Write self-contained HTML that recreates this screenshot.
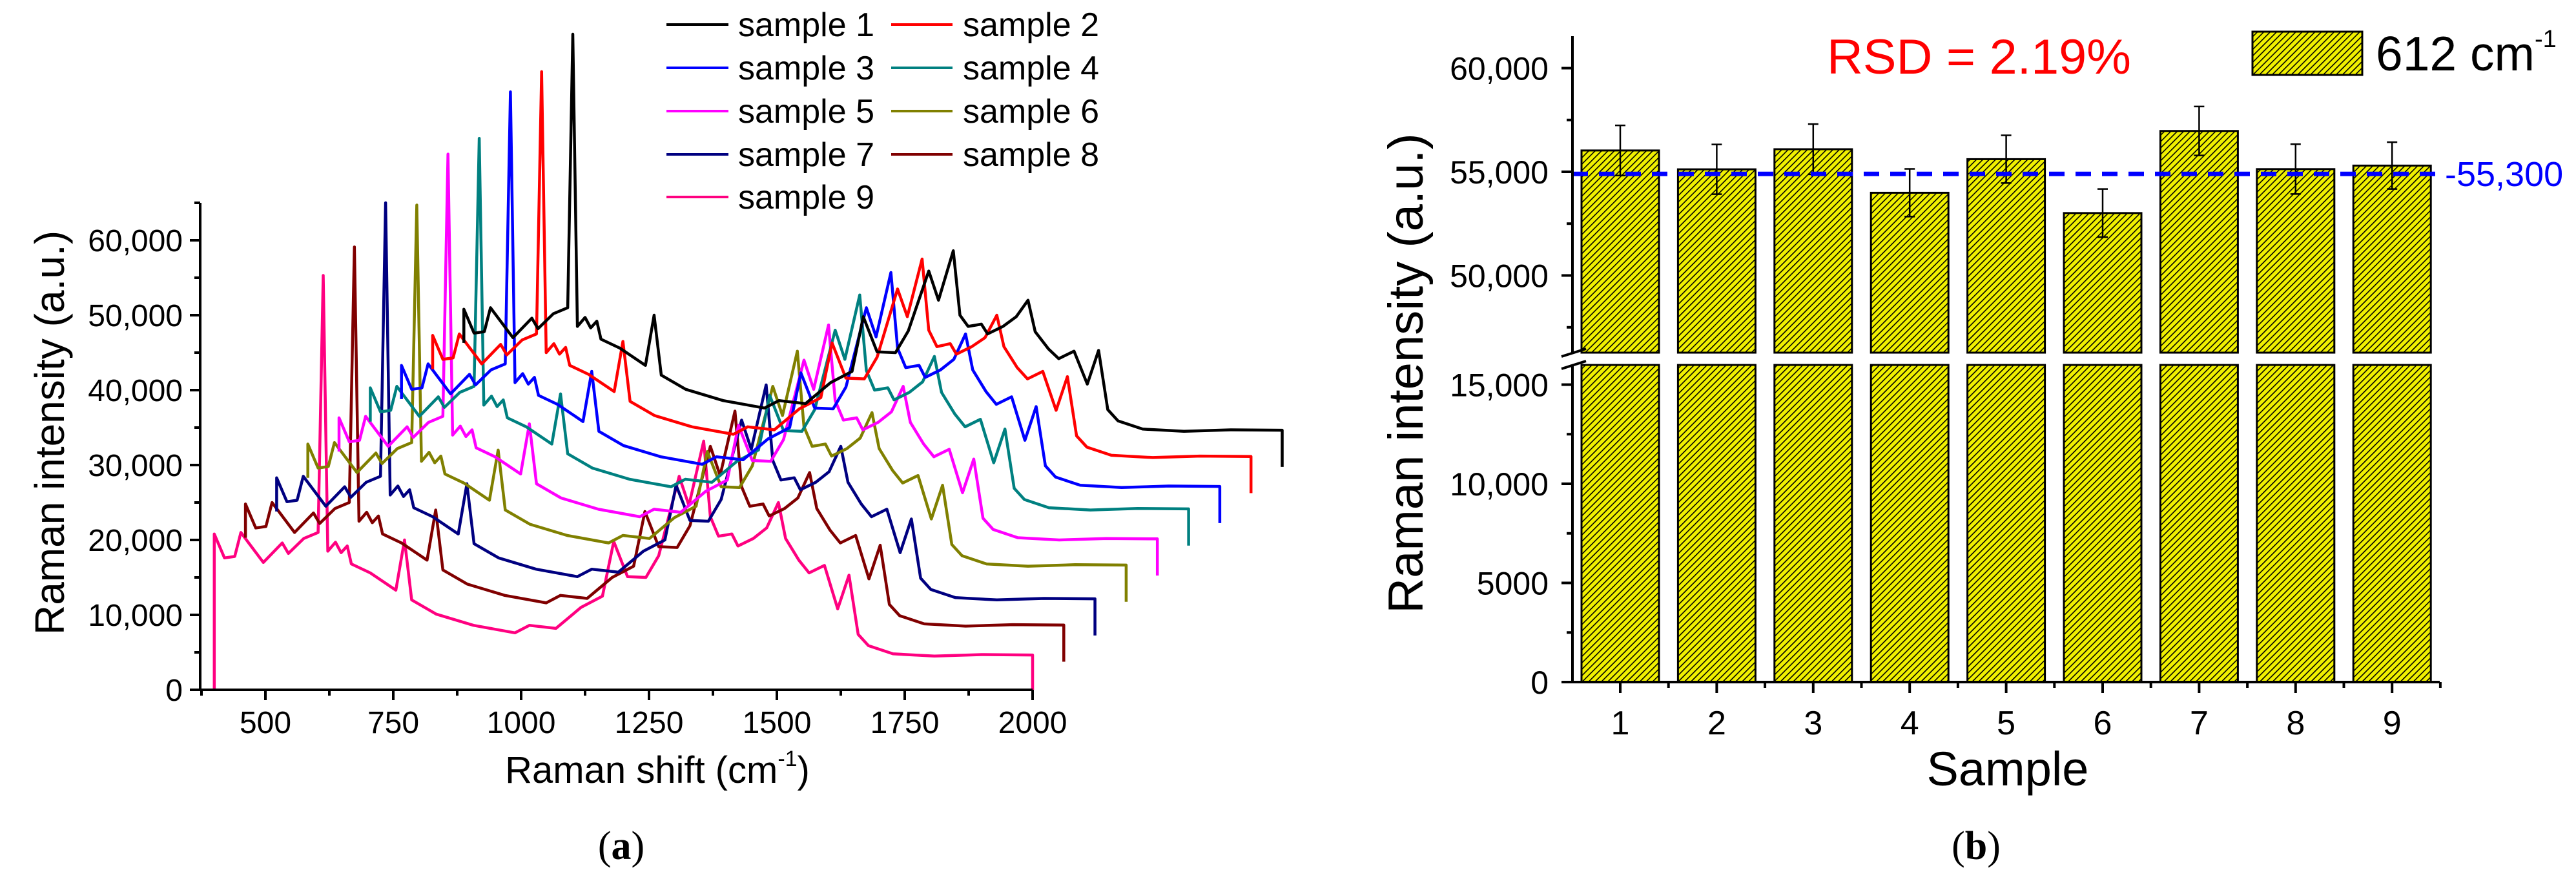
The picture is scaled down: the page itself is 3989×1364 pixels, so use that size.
<!DOCTYPE html>
<html>
<head>
<meta charset="utf-8">
<style>
  html,body{margin:0;padding:0;background:#fff;}
  svg{display:block;font-family:"Liberation Sans",Arial,sans-serif;}
</style>
</head>
<body>
<svg id="fig" xmlns="http://www.w3.org/2000/svg" width="3989" height="1364" viewBox="0 0 3989 1364">
  <defs>
    <pattern id="hatch" patternUnits="userSpaceOnUse" width="7" height="7" patternTransform="rotate(45)">
      <rect width="7" height="7" fill="#f0f000"/>
      <line x1="0" y1="0" x2="0" y2="7" stroke="#000" stroke-width="3.2"/>
    </pattern>
  </defs>
  <rect width="3989" height="1364" fill="#fff"/>

  <g id="left-chart"></g>
  <g id="right-chart"></g>

  <!-- left legend -->
  <g font-size="52">
    <g><line x1="1032" y1="38" x2="1128" y2="38" stroke="#000" stroke-width="4"/><text x="1143" y="56">sample 1</text></g>
    <g><line x1="1380" y1="38" x2="1475" y2="38" stroke="#ff0000" stroke-width="4"/><text x="1491" y="56">sample 2</text></g>
    <g><line x1="1032" y1="105" x2="1128" y2="105" stroke="#0000ff" stroke-width="4"/><text x="1143" y="123">sample 3</text></g>
    <g><line x1="1380" y1="105" x2="1475" y2="105" stroke="#008080" stroke-width="4"/><text x="1491" y="123">sample 4</text></g>
    <g><line x1="1032" y1="172" x2="1128" y2="172" stroke="#ff00ff" stroke-width="4"/><text x="1143" y="190">sample 5</text></g>
    <g><line x1="1380" y1="172" x2="1475" y2="172" stroke="#808000" stroke-width="4"/><text x="1491" y="190">sample 6</text></g>
    <g><line x1="1032" y1="239" x2="1128" y2="239" stroke="#000080" stroke-width="4"/><text x="1143" y="257">sample 7</text></g>
    <g><line x1="1380" y1="239" x2="1475" y2="239" stroke="#800000" stroke-width="4"/><text x="1491" y="257">sample 8</text></g>
    <g><line x1="1032" y1="305" x2="1128" y2="305" stroke="#ff0080" stroke-width="4"/><text x="1143" y="323">sample 9</text></g>
  </g>

  <!-- titles -->
  <text font-size="64" text-anchor="middle" transform="translate(99,670) rotate(-90)">Raman intensity (a.u.)</text>
  <text font-size="58" text-anchor="middle" x="1018" y="1212">Raman shift (cm<tspan font-size="34" dy="-26">-1</tspan><tspan dy="26">)</tspan></text>
  <text font-family="Liberation Serif, serif" font-size="62" text-anchor="middle" x="962" y="1330">(<tspan font-weight="bold">a</tspan>)</text>

  <text font-size="76" text-anchor="middle" transform="translate(2203,578) rotate(-90)">Raman intensity (a.u.)</text>
  <text font-size="74" text-anchor="middle" x="3109" y="1216">Sample</text>
  <text font-family="Liberation Serif, serif" font-size="62" text-anchor="middle" x="3060" y="1330">(<tspan font-weight="bold">b</tspan>)</text>

  <text font-size="76" fill="#ff0000" x="2829" y="114" textLength="471" lengthAdjust="spacingAndGlyphs">RSD = 2.19%</text>

  <g>
    <rect x="3488" y="49" width="170" height="67" fill="url(#hatch)" stroke="#000" stroke-width="3"/>
    <text font-size="75" x="3679" y="109">612 cm<tspan font-size="38" dy="-36">-1</tspan></text>
  </g>
</svg>

<script>
// ---------- Panel (a) data ----------
const shiftBase = [400,400,420,440,452,496,533,545,575,603,613,622,637,648,660,668,705,755,772,786,834,907,988,1016,1068,1117,1159,1181,1208,1244,1269,1309,1328,1357,1370,1386,1412,1424,1454,1480,1503,1517,1543,1563,1593,1619,1641,1659,1679,1727,1808,1900,2000,2000];
const seriesShift = [488,427,366,305,244,183,122,61,0];
const sample1 = [46300,50800,47600,47800,51000,47000,49600,48200,50200,51000,87500,48500,49700,48300,49200,46800,45600,43300,50000,42000,40100,38600,37600,38600,38200,41000,42500,49800,45100,45000,47900,55900,52000,58600,50000,48500,48800,47500,48500,49800,52000,47800,45500,44200,45200,40800,45300,37400,35900,34800,34500,34700,34650,29750];
const sample2 = [42800,47300,44100,44300,47500,43500,46100,44700,46700,47500,82500,45000,46200,44800,45700,43300,42100,39800,46500,38500,36600,35100,34100,35100,34700,37500,39000,46300,41600,41500,44400,53500,49800,57500,48000,45800,46200,44800,45800,47000,50000,45800,43000,41500,42500,37300,41800,33900,32400,31300,31000,31200,31150,26250];
const sample3 = [38800,43300,40100,40300,43500,39500,42100,40700,42700,43500,79800,41000,42200,40800,41700,39300,38100,35800,42500,34500,32600,31100,30100,31100,30700,33500,35000,42300,37600,37500,40400,51000,47100,55700,45600,43000,43300,41700,42700,44100,47500,42700,39800,38100,39100,33300,37800,29900,28400,27300,27000,27200,27150,22250];
const sample4 = [35800,40300,37100,37300,40500,36500,39100,37700,39700,40500,73600,38000,39200,37800,38700,36300,35100,32800,39500,31500,29600,28100,27100,28100,27700,30500,32000,39300,34600,34500,37400,48000,44100,52700,42600,40000,40300,38700,39700,41100,44500,39700,36800,35100,36100,30300,34800,26900,25400,24300,24000,24200,24150,19250];
const sample5 = [31800,36300,33100,33300,36500,32500,35100,33700,35700,36500,71500,34000,35200,33800,34700,32300,31100,28800,35500,27500,25600,24100,23100,24100,23700,26500,28000,35300,30600,30500,33400,44000,40100,48700,38600,36000,36300,34700,35700,37100,40500,35700,32800,31100,32100,26300,30800,22900,21400,20300,20000,20200,20150,15250];
const sample6 = [28300,32800,29600,29800,33000,29000,31600,30200,32200,33000,64700,30500,31700,30300,31200,28800,27600,25300,32000,24000,22100,20600,19600,20600,20200,23000,24500,31800,27100,27000,29900,40500,36600,45200,35100,32500,32800,31200,32200,33600,37000,32200,29300,27600,28600,22800,27300,19400,17900,16800,16500,16700,16650,11750];
const sample7 = [23800,28300,25100,25300,28500,24500,27100,25700,27700,28500,65000,26000,27200,25800,26700,24300,23100,20800,27500,19500,17600,16100,15100,16100,15700,18500,20000,27300,22600,22500,25400,36000,32100,40700,30600,28000,28300,26700,27700,29100,32500,27700,24800,23100,24100,18300,22800,14900,13400,12300,12000,12200,12150,7250];
const sample8 = [20300,24800,21600,21800,25000,21000,23600,22200,24200,25000,59100,22500,23700,22300,23200,20800,19600,17300,24000,16000,14100,12600,11600,12600,12200,15000,16500,23800,19100,19000,21900,32500,28600,37200,27100,24500,24800,23200,24200,25600,29000,24200,21300,19600,20600,14800,19300,11400,9900,8800,8500,8700,8650,3750];
const sample9 = [0,20800,17600,17800,21000,17000,19600,18200,20200,21000,55300,18500,19700,18300,19200,16800,15600,13300,20000,12000,10100,8600,7600,8600,8200,11000,12500,19800,15100,15000,17900,28500,24600,33200,23100,20500,20800,19200,20200,21600,25000,20200,17300,15600,16600,10800,15300,7400,5900,4800,4500,4700,4650,0];
const seriesList = [sample1,sample2,sample3,sample4,sample5,sample6,sample7,sample8,sample9];
const xTicksA = [500,750,1000,1250,1500,1750,2000];
const xMinorA = [375,625,875,1125,1375,1625,1875];
const yTicksA = [0,10000,20000,30000,40000,50000,60000];
const yTickLabelsA = ['0','10,000','20,000','30,000','40,000','50,000','60,000'];
const yMinorA = [5000,15000,25000,35000,45000,55000,65000];

// ---------- Panel (b) data ----------
const barCategories = ['1','2','3','4','5','6','7','8','9'];
const barValues = [56030,55120,56090,53990,55610,53010,56970,55130,55300];
const barErrors = [1210,1200,1210,1150,1150,1160,1180,1200,1130];
const meanLineValue = 54900;
const meanLabel = '-55,300';
const yTicksUpper = [50000,55000,60000];
const yTickLabelsUpper = ['50,000','55,000','60,000'];
const yMinorUpper = [47500,52500,57500];
const yTicksLower = [0,5000,10000,15000];
const yTickLabelsLower = ['0','5000','10,000','15,000'];
const yMinorLower = [2500,7500,12500];

const NS = 'http://www.w3.org/2000/svg';
function mk(tag, attrs, parent){
  const e = document.createElementNS(NS, tag);
  for (const k in attrs) e.setAttribute(k, attrs[k]);
  parent.appendChild(e);
  return e;
}

// ---------- Panel (a) ----------
const gA = document.getElementById('left-chart');
const xA = v => 411 + (v - 500) * 0.792;
const yA = v => 1068 - v * 0.0116;
const colors = ['#000000','#ff0000','#0000ff','#008080','#ff00ff','#808000','#000080','#800000','#ff0080'];

for (let s = seriesList.length - 1; s >= 0; s--) {
  const vals = seriesList[s];
  let d = '';
  for (let i = 0; i < vals.length; i++) {
    const px = xA(shiftBase[i] + seriesShift[s]);
    const py = yA(vals[i]);
    d += (i ? 'L' : 'M') + px.toFixed(1) + ',' + py.toFixed(1);
  }
  const p = mk('path', {d: d, fill: 'none', stroke: colors[s], 'stroke-width': 4.5, 'stroke-linejoin': 'round'}, gA);
  
  
}

const axA = mk('path', {d: 'M310,' + yA(65000) + ' L310,1068 L' + xA(2000) + ',1068', fill: 'none', stroke: '#000', 'stroke-width': 4}, gA);



yTicksA.forEach((v, i) => {
  mk('line', {x1: 294, x2: 310, y1: yA(v), y2: yA(v), stroke: '#000', 'stroke-width': 4}, gA);
  const t = mk('text', {x: 283, y: yA(v) + 17, 'font-size': 48, 'text-anchor': 'end'}, gA);
  t.textContent = yTickLabelsA[i];
  
  
});
yMinorA.forEach(v => mk('line', {x1: 301, x2: 310, y1: yA(v), y2: yA(v), stroke: '#000', 'stroke-width': 4}, gA));
xTicksA.forEach(v => {
  mk('line', {x1: xA(v), x2: xA(v), y1: 1068, y2: 1084, stroke: '#000', 'stroke-width': 4}, gA);
  const t = mk('text', {x: xA(v), y: 1135, 'font-size': 48, 'text-anchor': 'middle'}, gA);
  t.textContent = String(v);
  
  
});
xMinorA.forEach(v => mk('line', {x1: xA(v), x2: xA(v), y1: 1068, y2: 1077, stroke: '#000', 'stroke-width': 4}, gA));

// ---------- Panel (b) ----------
const gB = document.getElementById('right-chart');
const AX = 2435, AXR = 3778, BASE = 1056, BRK_TOP = 546, BRK_BOT = 565, TOP = 56;
const yU = v => 266 - (v - 55000) * 0.0321;
const yLo = v => 1056 - v * 0.0307;
const xB = i => 2509 + i * 149.4;
const barW = 120;

barValues.forEach((v, i) => {
  const cx = xB(i);
  const up = mk('rect', {x: cx - barW / 2, y: yU(v), width: barW, height: BRK_TOP - yU(v), fill: 'url(#hatch)', stroke: '#000', 'stroke-width': 3}, gB);
  
  
  const lo = mk('rect', {x: cx - barW / 2, y: BRK_BOT, width: barW, height: BASE - BRK_BOT, fill: 'url(#hatch)', stroke: '#000', 'stroke-width': 3}, gB);
  
  
  const eTop = yU(v + barErrors[i]), eBot = yU(v - barErrors[i]);
  const eb = mk('path', {d: 'M' + cx + ',' + eTop + 'L' + cx + ',' + eBot + 'M' + (cx - 8) + ',' + eTop + 'L' + (cx + 8) + ',' + eTop + 'M' + (cx - 8) + ',' + eBot + 'L' + (cx + 8) + ',' + eBot, stroke: '#000', 'stroke-width': 2.5, fill: 'none'}, gB);
  
  
});

// white gap across the break
mk('rect', {x: AX - 2, y: BRK_TOP + 2, width: AXR - AX + 4, height: BRK_BOT - BRK_TOP - 4, fill: '#fff'}, gB);

const mean = mk('line', {x1: AX, x2: 3785, y1: yU(meanLineValue), y2: yU(meanLineValue), stroke: '#0000ff', 'stroke-width': 7, 'stroke-dasharray': '24,17'}, gB);


const ml = mk('text', {x: 3786, y: yU(meanLineValue) + 19, 'font-size': 54, fill: '#0000ff'}, gB);
ml.textContent = meanLabel;



// axes
const ax1 = mk('path', {d: 'M' + AX + ',' + TOP + 'L' + AX + ',' + BRK_TOP + 'M' + AX + ',' + BRK_BOT + 'L' + AX + ',' + BASE + 'L' + AXR + ',' + BASE, stroke: '#000', 'stroke-width': 4, fill: 'none'}, gB);


const brk = mk('path', {d: 'M2418,' + (BRK_TOP + 6) + 'L2456,' + (BRK_TOP - 6) + 'M2418,' + (BRK_BOT + 6) + 'L2456,' + (BRK_BOT - 6), stroke: '#000', 'stroke-width': 4, fill: 'none'}, gB);



yTicksUpper.forEach((v, i) => {
  mk('line', {x1: AX - 17, x2: AX, y1: yU(v), y2: yU(v), stroke: '#000', 'stroke-width': 4}, gB);
  const t = mk('text', {x: 2398, y: yU(v) + 18, 'font-size': 50, 'text-anchor': 'end'}, gB);
  t.textContent = yTickLabelsUpper[i];
  
  
});
yMinorUpper.forEach(v => mk('line', {x1: AX - 9, x2: AX, y1: yU(v), y2: yU(v), stroke: '#000', 'stroke-width': 4}, gB));
yTicksLower.forEach((v, i) => {
  mk('line', {x1: AX - 17, x2: AX, y1: yLo(v), y2: yLo(v), stroke: '#000', 'stroke-width': 4}, gB);
  const t = mk('text', {x: 2398, y: yLo(v) + 18, 'font-size': 50, 'text-anchor': 'end'}, gB);
  t.textContent = yTickLabelsLower[i];
  
  
});
yMinorLower.forEach(v => mk('line', {x1: AX - 9, x2: AX, y1: yLo(v), y2: yLo(v), stroke: '#000', 'stroke-width': 4}, gB));

barCategories.forEach((c, i) => {
  mk('line', {x1: xB(i), x2: xB(i), y1: BASE, y2: BASE + 17, stroke: '#000', 'stroke-width': 4}, gB);
  mk('line', {x1: xB(i) + 74.7, x2: xB(i) + 74.7, y1: BASE, y2: BASE + 9, stroke: '#000', 'stroke-width': 4}, gB);
  const t = mk('text', {x: xB(i), y: 1137, 'font-size': 52, 'text-anchor': 'middle'}, gB);
  t.textContent = c;
  
  
});
</script>
</body>
</html>
